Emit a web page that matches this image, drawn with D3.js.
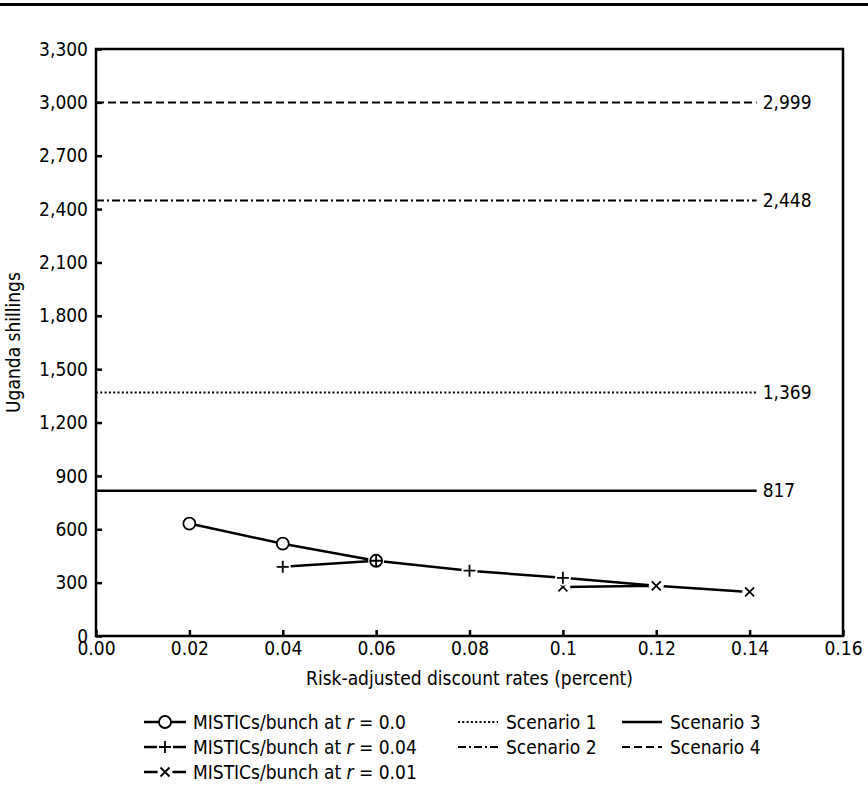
<!DOCTYPE html>
<html>
<head>
<meta charset="utf-8">
<script src="https://cdn.jsdelivr.net/npm/d3@7"></script>
<style>
  body { margin: 0; background: #fff; }
  svg text { font-family: "DejaVu Sans Condensed", "DejaVu Sans", sans-serif; fill: #000; }
</style>
</head>
<body>
<div id="chart"></div>
<script>
// Data
const rateR00 = [0.02, 0.04, 0.06];
const valueR00 = [632, 519, 423];

const rateR004 = [0.04, 0.06, 0.08, 0.10, 0.12];
const valueR004 = [389, 423, 367, 327, 282];
const markedR004 = [true, true, true, true, false];

const rateR001 = [0.10, 0.12, 0.14];
const valueR001 = [276, 282, 248];

const scenarioNames = ["Scenario 1", "Scenario 2", "Scenario 3", "Scenario 4"];
const scenarioValues = [1369, 2448, 817, 2999];
const scenarioLabels = ["1,369", "2,448", "817", "2,999"];

const xTicks = [0, 0.02, 0.04, 0.06, 0.08, 0.10, 0.12, 0.14, 0.16];
const xTickLabels = ["0.00", "0.02", "0.04", "0.06", "0.08", "0.1", "0.12", "0.14", "0.16"];
const yTicks = [0, 300, 600, 900, 1200, 1500, 1800, 2100, 2400, 2700, 3000, 3300];

/*******************************/
/*    Declare the constants    */
/*******************************/
const width = 868;
const height = 785;
const margin = {top: 49, right: 25, bottom: 149, left: 96};
const innerWidth = width - margin.left - margin.right;
const innerHeight = height - margin.top - margin.bottom;
const fontSize = 19;
const scenarioEnd = 0.1415;
const scenarioDash = {
  "Scenario 1": "2,2.3",
  "Scenario 2": "8,3,2,3",
  "Scenario 3": null,
  "Scenario 4": "8,4"
};

const svg = d3.select("#chart")
  .append("svg")
    .attr("width", width)
    .attr("height", height);

// Top rule
svg.append("rect")
  .attr("x", 0).attr("y", 3)
  .attr("width", width).attr("height", 3)
  .attr("fill", "#000");

const innerChart = svg.append("g")
  .attr("transform", `translate(${margin.left}, ${margin.top})`);

/****************************/
/*    Declare the scales    */
/****************************/
const xScale = d3.scaleLinear().domain([0, 0.16]).range([0, innerWidth]);
const yScale = d3.scaleLinear().domain([0, 3300]).range([innerHeight, 0]);

/**************************/
/*      Add the axes      */
/**************************/
const bottomAxis = d3.axisBottom(xScale)
  .tickValues(xTicks)
  .tickFormat((d, i) => xTickLabels[i])
  .tickSizeInner(-6)
  .tickSizeOuter(0)
  .tickPadding(6);
const bottomG = innerChart.append("g")
  .attr("transform", `translate(0, ${innerHeight})`)
  .call(bottomAxis);

const leftAxis = d3.axisLeft(yScale)
  .tickValues(yTicks)
  .tickFormat(d3.format(","))
  .tickSizeInner(-6)
  .tickSizeOuter(0)
  .tickPadding(8);
const leftG = innerChart.append("g").call(leftAxis);

[bottomG, leftG].forEach(g => {
  g.select(".domain").remove();
  g.selectAll(".tick line").attr("stroke", "#000").attr("stroke-width", 2.5);
  g.selectAll(".tick text").attr("font-size", fontSize).attr("fill", "#000");
  g.attr("font-family", null).attr("font-size", null);
});

// Frame
innerChart.append("rect")
  .attr("x", 0).attr("y", 0)
  .attr("width", innerWidth).attr("height", innerHeight)
  .attr("fill", "none")
  .attr("stroke", "#000")
  .attr("stroke-width", 2.5);

// Axis titles
svg.append("text")
  .text("Risk-adjusted discount rates (percent)")
  .attr("x", margin.left + innerWidth / 2)
  .attr("y", margin.top + innerHeight + 49)
  .attr("text-anchor", "middle")
  .attr("font-size", fontSize);

svg.append("text")
  .text("Uganda shillings")
  .attr("transform", `translate(20, ${margin.top + innerHeight / 2}) rotate(-90)`)
  .attr("text-anchor", "middle")
  .attr("font-size", fontSize);

/********************************/
/*      Scenario lines          */
/********************************/
scenarioNames.forEach((name, i) => {
  innerChart.append("line")
    .attr("x1", xScale(0))
    .attr("x2", xScale(scenarioEnd))
    .attr("y1", yScale(scenarioValues[i]))
    .attr("y2", yScale(scenarioValues[i]))
    .attr("stroke", "#000")
    .attr("stroke-width", name === "Scenario 3" ? 2.5 : 2)
    .attr("stroke-dasharray", scenarioDash[name]);
  innerChart.append("text")
    .text(scenarioLabels[i])
    .attr("x", xScale(scenarioEnd) + 6)
    .attr("y", yScale(scenarioValues[i]))
    .attr("dy", "0.35em")
    .attr("font-size", fontSize);
});

/********************************/
/*      Markers                 */
/********************************/
const drawCircle = (g, cx, cy) => {
  g.append("circle")
    .attr("cx", cx).attr("cy", cy).attr("r", 6)
    .attr("fill", "#fff").attr("stroke", "#000").attr("stroke-width", 1.8);
};
const drawPlus = (g, cx, cy) => {
  g.append("circle")
    .attr("cx", cx).attr("cy", cy).attr("r", 8).attr("fill", "#fff");
  g.append("path")
    .attr("d", `M${cx - 6},${cy}H${cx + 6}M${cx},${cy - 6}V${cy + 6}`)
    .attr("stroke", "#000").attr("stroke-width", 1.8);
};
const drawCross = (g, cx, cy) => {
  g.append("circle")
    .attr("cx", cx).attr("cy", cy).attr("r", 7.5).attr("fill", "#fff");
  g.append("path")
    .attr("d", `M${cx - 4.5},${cy - 4.5}L${cx + 4.5},${cy + 4.5}M${cx - 4.5},${cy + 4.5}L${cx + 4.5},${cy - 4.5}`)
    .attr("stroke", "#000").attr("stroke-width", 1.8);
};

const lineGen = d3.line().x(d => xScale(d[0])).y(d => yScale(d[1]));
const seriesPath = (xs, ys) => innerChart.append("path")
  .datum(xs.map((x, i) => [x, ys[i]]))
  .attr("d", lineGen)
  .attr("fill", "none")
  .attr("stroke", "#000")
  .attr("stroke-width", 2.5);

// Lines first, markers on top
seriesPath(rateR001, valueR001);
seriesPath(rateR004, valueR004);
seriesPath(rateR00, valueR00);

const markerG = innerChart.append("g");
rateR001.forEach((x, i) => drawCross(markerG, xScale(x), yScale(valueR001[i])));
rateR004.forEach((x, i) => {
  if (markedR004[i]) drawPlus(markerG, xScale(x), yScale(valueR004[i]));
});
rateR00.forEach((x, i) => {
  const cx = xScale(x), cy = yScale(valueR00[i]);
  drawCircle(markerG, cx, cy);
  // overlapping + marker shows through the circle
  const j = rateR004.indexOf(x);
  if (j >= 0 && Math.abs(valueR004[j] - valueR00[i]) < 5) {
    markerG.append("path")
      .attr("d", `M${cx - 6},${cy}H${cx + 6}M${cx},${cy - 6}V${cy + 6}`)
      .attr("stroke", "#000").attr("stroke-width", 1.8);
  }
});

/***********************/
/*      Legend         */
/***********************/
const legend = svg.append("g");
const rowY = [722, 747, 772];
const sampleLine = (x1, x2, y, dash, w) => legend.append("line")
  .attr("x1", x1).attr("x2", x2).attr("y1", y).attr("y2", y)
  .attr("stroke", "#000").attr("stroke-width", w)
  .attr("stroke-dasharray", dash);
const legendText = (x, y, parts) => {
  const t = legend.append("text").attr("x", x).attr("y", y).attr("dy", "0.35em")
    .attr("font-size", fontSize);
  parts.forEach(p => t.append("tspan").text(p.text).attr("font-style", p.italic ? "italic" : null));
};

const seriesLegend = [
  {label: "0.0", draw: drawCircle},
  {label: "0.04", draw: drawPlus},
  {label: "0.01", draw: drawCross}
];
seriesLegend.forEach((s, i) => {
  sampleLine(144, 186, rowY[i], null, 2.5);
  s.draw(legend, 165, rowY[i]);
  legendText(193, rowY[i], [
    {text: "MISTICs/bunch at "}, {text: "r", italic: true}, {text: " = " + s.label}
  ]);
});

const scenarioLegendPos = [
  {x: 458, row: 0}, {x: 458, row: 1}, {x: 622, row: 0}, {x: 622, row: 1}
];
scenarioNames.forEach((name, i) => {
  const p = scenarioLegendPos[i];
  sampleLine(p.x, p.x + 40, rowY[p.row], scenarioDash[name], name === "Scenario 3" ? 2.5 : 2);
  legendText(p.x + 48, rowY[p.row], [{text: name}]);
});
</script>
</body>
</html>
